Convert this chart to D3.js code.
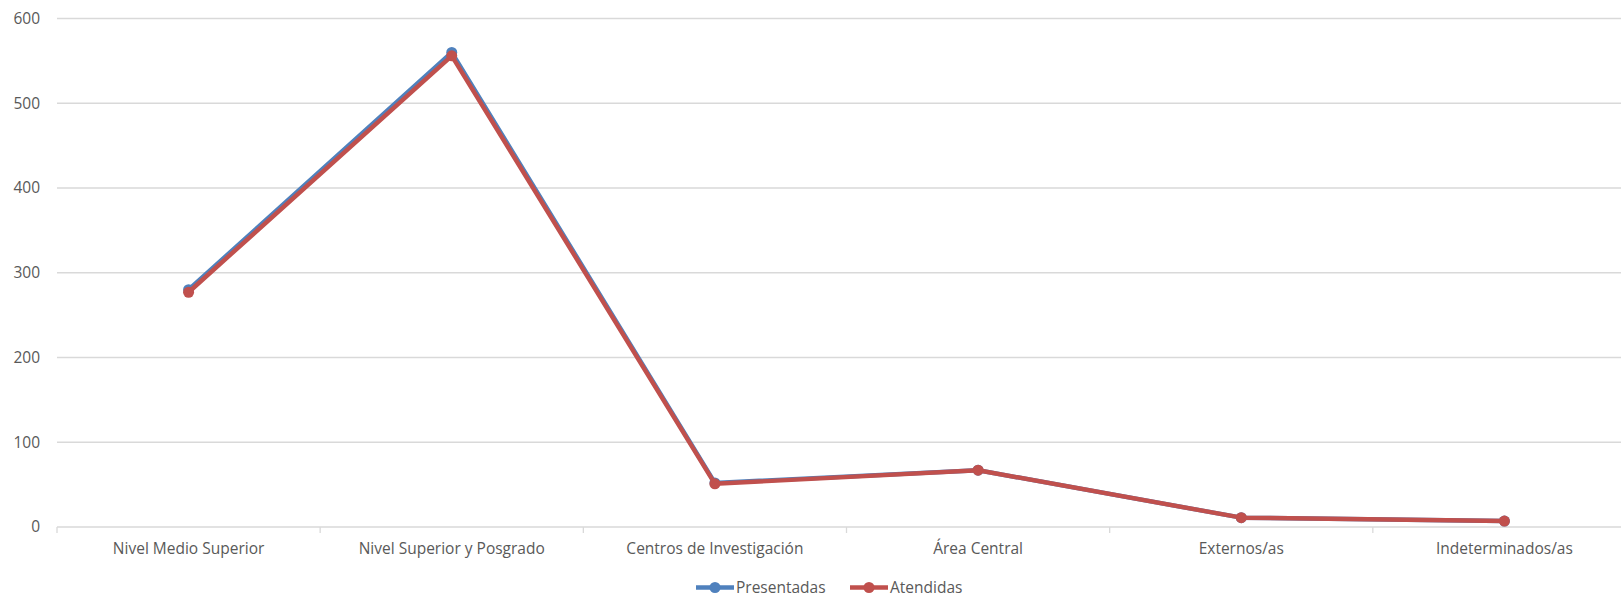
<!DOCTYPE html>
<html><head><meta charset="utf-8">
<script src="https://cdn.jsdelivr.net/npm/d3@7"></script>
<style>body{margin:0;background:#fff}svg{display:block}text{font-family:"Open Sans","Liberation Sans",sans-serif}</style>
</head><body>
<svg id="c" width="1621" height="597"></svg>
<script>
const categories = ["Nivel Medio Superior","Nivel Superior y Posgrado","Centros de Investigación","Área Central","Externos/as","Indeterminados/as"];
const presentadas = [280, 560, 52, 67, 11, 7];
const atendidas = [277, 556, 51, 67, 11, 7];
const yTicks = [0,100,200,300,400,500,600];
const seriesNames = ["Presentadas","Atendidas"];
const seriesColors = ["#4F81BD","#C0504D"];

const W = 1621, H = 597;
const FS = 15.5;
const m = {left:57, right:-15, top:18.5, bottom:70};
const svg = d3.select("#c");
const x = d3.scaleBand().domain(categories).range([m.left, W - m.right]);
const y = d3.scaleLinear().domain([0,600]).range([527, 18.5]);

// gridlines
svg.append("g").selectAll("line").data(yTicks.filter(d=>d>0)).join("line")
  .attr("x1", m.left).attr("x2", W).attr("y1", d=>y(d)).attr("y2", d=>y(d))
  .attr("stroke","#d9d9d9").attr("stroke-width",1.3);

// y labels
svg.append("g").selectAll("text").data(yTicks).join("text")
  .attr("x", 40).attr("y", d=>y(d)).attr("dy","0.35em").attr("text-anchor","end")
  .attr("fill","#595959").attr("font-size",FS).text(d=>d);

// x axis
const xa = svg.append("g").attr("transform",`translate(0,${y(0)})`)
  .call(d3.axisBottom(x).tickSize(0).tickPadding(16));
xa.select(".domain").remove();
xa.selectAll("text").attr("fill","#595959").attr("font-size",FS)
  .style("font-family",'"Open Sans","Liberation Sans",sans-serif');
svg.append("line").attr("x1",m.left).attr("x2",W).attr("y1",y(0)).attr("y2",y(0))
  .attr("stroke","#d9d9d9").attr("stroke-width",1.3);
const bounds = categories.map(c=>x(c)).concat([x(categories[categories.length-1])+x.bandwidth()]);
svg.append("g").selectAll("line").data(bounds).join("line")
  .attr("x1",d=>d).attr("x2",d=>d).attr("y1",y(0)).attr("y2",y(0)+6)
  .attr("stroke","#d9d9d9").attr("stroke-width",1.3);

const cx = c => x(c) + x.bandwidth()/2;
const line = d3.line().x((d,i)=>cx(categories[i])).y(d=>y(d));
[presentadas, atendidas].forEach((s,k)=>{
  const g = svg.append("g");
  g.append("path").datum(s).attr("d",line).attr("fill","none")
    .attr("stroke",seriesColors[k]).attr("stroke-width",4.4).attr("stroke-linejoin","round");
  g.selectAll("circle").data(s).join("circle")
    .attr("cx",(d,i)=>cx(categories[i])).attr("cy",d=>y(d)).attr("r",5.5)
    .attr("fill",seriesColors[k]);
});

// legend
const lg = svg.append("g");
const legX = [696, 850];
seriesNames.forEach((n,k)=>{
  const lx = legX[k], ly = 587.5;
  lg.append("line").attr("x1",lx).attr("x2",lx+38).attr("y1",ly).attr("y2",ly)
    .attr("stroke",seriesColors[k]).attr("stroke-width",4.4);
  lg.append("circle").attr("cx",lx+19).attr("cy",ly).attr("r",5.5).attr("fill",seriesColors[k]);
  lg.append("text").attr("x",lx+40).attr("y",ly).attr("dy","0.33em")
    .attr("fill","#595959").attr("font-size",FS).text(n);
});
</script>
</body></html>
